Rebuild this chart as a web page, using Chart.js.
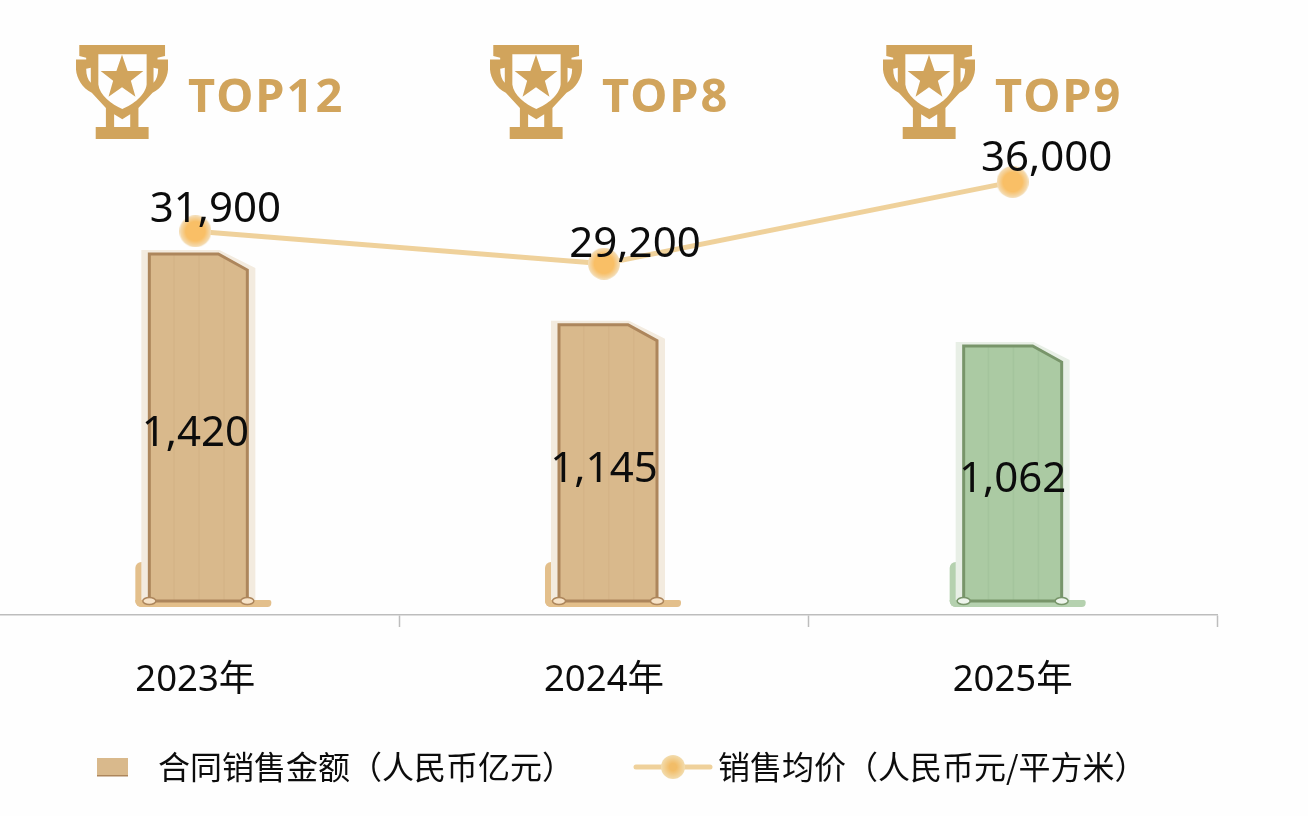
<!DOCTYPE html>
<html lang="zh-CN">
<head>
<meta charset="utf-8">
<title>合同销售金额与销售均价</title>
<script src="https://cdn.jsdelivr.net/npm/chart.js@4/dist/chart.umd.min.js"></script>
<style>
  html, body { margin: 0; height: 100%; background: #fefefe; overflow: hidden; }
  #wrap { position: relative; width: 1308px; height: 816px; overflow: hidden; }
  /* the first axis segment runs off the left edge */
  #chart { position: absolute; left: -9px; top: 0; }
</style>
</head>
<body>
<div id="wrap"><canvas id="chart" width="1317" height="816"></canvas></div>
<script>
const years = ['2023年', '2024年', '2025年'];
const salesAmount = [1420, 1145, 1062];
const avgPrice = [31900, 29200, 36000];
const ranks = ['TOP12', 'TOP8', 'TOP9'];
const amountLegend = '合同销售金额（人民币亿元）';
const priceLegend = '销售均价（人民币元/平方米）';

const LATIN = '"Noto Sans", "Noto Sans CJK SC", sans-serif';
const CJK = '"Noto Sans CJK SC", "Noto Sans", sans-serif';
const GOLD = '#d1a45c';
const TEXT = '#0c0c0c';

/* ── Bar skins ─────────────────────────────── */
const TAN = { fill: '#d9b98c', edge: '#ad865c', frame: '#f3ebdf', foot: '#e3bf8b', cap: '#f7e3c8', stripe: 'rgba(150,110,60,0.06)' };
const GREEN = { fill: '#abcaa3', edge: '#78956a', frame: '#e8efe6', foot: '#b5d1af', cap: '#eef5ec', stripe: 'rgba(70,110,70,0.06)' };
const barSkins = [TAN, TAN, GREEN];
const barNudge = [3, 4, 0];

/* ── Header placement (icon left edge, label left edge) ────── */
const trophyLeft = [76, 490, 883];
const rankLeft = [188, 602, 995];

/* value label offsets from the line point */
const priceLabelShift = [[20, -21], [31, -19], [34, -23]];

/* ── Trophy icon, 280 unit box ─────────────── */
const TROPHY = new Path2D(
  'M10 0H271V33L248 38V43H280V73C278 100 262 128 233 143L190 188V245H221V281H60V245H91V188L48 143' +
  'C19 128 2 100 0 73V43H31V38L10 33Z' +
  'M68 28V118C72 150 108 178 141 191C174 178 211 150 215 118V28Z' +
  'M31 71C31 90 36 104 45 113V68Z' +
  'M250 71C250 90 245 104 236 113V68Z' +
  'M116 207L141 222L165 207V245H116Z'
);
const STAR = new Path2D('M140 29L157 78L205 78L167 107L181 155L140 126L99 155L113 107L75 78L123 78Z');

function chamferedPath(ctx, l, r, t, b, cutX, cutY) {
  ctx.beginPath();
  ctx.moveTo(l, b);
  ctx.lineTo(l, t);
  ctx.lineTo(r - cutX, t);
  ctx.lineTo(r, t + cutY);
  ctx.lineTo(r, b);
  ctx.closePath();
}

function drawPictorialBar(ctx, bar, skin, nudge) {
  const l = bar.x - bar.width / 2 + nudge;
  const r = bar.x + bar.width / 2 + nudge;
  const top = bar.y;
  const floor = bar.base - 8;

  // footplate behind the column
  ctx.fillStyle = skin.foot;
  ctx.beginPath();
  ctx.roundRect(l - 14, floor - 45, 20, 45, [6, 0, 0, 6]);
  ctx.fill();
  ctx.beginPath();
  ctx.roundRect(l - 14, floor - 7, bar.width + 38, 7, [0, 2, 4, 6]);
  ctx.fill();

  // pale outer frame
  ctx.fillStyle = skin.frame;
  chamferedPath(ctx, l - 8, r + 8, top, floor - 7, 36, 18);
  ctx.fill();

  // column body
  ctx.save();
  chamferedPath(ctx, l, r, top + 4, floor - 6, 29, 16);
  ctx.fillStyle = skin.fill;
  ctx.fill();
  ctx.clip();
  ctx.fillStyle = skin.stripe;
  for (let x = l + 24; x < r; x += 25) ctx.fillRect(x, top, 1.5, floor - top);
  ctx.restore();
  chamferedPath(ctx, l, r, top + 4, floor - 6, 29, 16);
  ctx.strokeStyle = skin.edge;
  ctx.lineWidth = 3;
  ctx.stroke();

  // small rivets at the two lower corners
  [l, r].forEach(x => {
    ctx.beginPath();
    ctx.ellipse(x, floor - 6, 6.5, 3.5, 0, 0, Math.PI * 2);
    ctx.fillStyle = skin.cap;
    ctx.fill();
    ctx.strokeStyle = skin.edge;
    ctx.lineWidth = 1.5;
    ctx.stroke();
  });
}

/* round marker with a warm centre that fades out to the rim */
function makeMarker(radius, core, rim, coreStop) {
  const c = document.createElement('canvas');
  c.width = c.height = radius * 2;
  const g = c.getContext('2d');
  const grad = g.createRadialGradient(radius, radius, 0, radius, radius, radius);
  grad.addColorStop(0, core);
  grad.addColorStop(coreStop, core);
  grad.addColorStop(1, rim);
  g.fillStyle = grad;
  g.beginPath();
  g.arc(radius, radius, radius, 0, Math.PI * 2);
  g.fill();
  return c;
}

const fmt = v => v.toLocaleString('en-US');

const pictorialBars = {
  id: 'pictorialBars',
  beforeDatasetDraw(chart, args) {
    if (args.index !== 0) return;
    args.meta.data.forEach((bar, i) => drawPictorialBar(chart.ctx, bar, barSkins[i], barNudge[i]));
    return false;
  },
};

const headerAndLabels = {
  id: 'headerAndLabels',
  afterDatasetsDraw(chart) {
    const ctx = chart.ctx;
    const shiftX = chart.canvas.offsetLeft;
    ctx.save();
    ctx.textBaseline = 'middle';

    // trophies with rank text
    ranks.forEach((rank, i) => {
      ctx.save();
      ctx.translate(trophyLeft[i] - shiftX, 45);
      ctx.scale(92 / 280, 94 / 281);
      ctx.fillStyle = GOLD;
      ctx.fill(TROPHY, 'evenodd');
      ctx.fill(STAR);
      ctx.restore();

      ctx.fillStyle = GOLD;
      ctx.textAlign = 'left';
      ctx.font = 'bold 47px ' + LATIN;
      ctx.letterSpacing = '2px';
      ctx.fillText(rank, rankLeft[i] - shiftX, 99);
      ctx.letterSpacing = '0px';
    });

    // value labels
    ctx.fillStyle = TEXT;
    ctx.textAlign = 'center';
    ctx.font = '42px ' + LATIN;
    chart.getDatasetMeta(0).data.forEach((bar, i) => {
      ctx.fillText(fmt(salesAmount[i]), bar.x, (bar.y + bar.base) / 2 + 2);
    });
    chart.getDatasetMeta(1).data.forEach((pt, i) => {
      const [dx, dy] = priceLabelShift[i];
      ctx.fillText(fmt(avgPrice[i]), pt.x + dx, pt.y + dy);
    });

    // legend row
    const legendY = 767;
    ctx.fillStyle = TAN.fill;
    ctx.fillRect(97 - shiftX, legendY - 9, 31, 18);
    ctx.fillStyle = TAN.edge;
    ctx.fillRect(97 - shiftX, legendY + 8, 31, 1.5);

    ctx.strokeStyle = '#efd19b';
    ctx.lineWidth = 5;
    ctx.lineCap = 'round';
    ctx.beginPath();
    ctx.moveTo(636 - shiftX, legendY);
    ctx.lineTo(710 - shiftX, legendY);
    ctx.stroke();
    ctx.drawImage(makeMarker(12, '#f2bd68', '#f2dcae', 0.3), 661 - shiftX, legendY - 12);

    ctx.fillStyle = TEXT;
    ctx.textAlign = 'left';
    ctx.font = '32px ' + CJK;
    ctx.fillText(amountLegend, 158 - shiftX, legendY);
    ctx.fillText(priceLegend, 718 - shiftX, legendY);
    ctx.restore();
  },
};

new Chart(document.getElementById('chart'), {
  data: {
    labels: years,
    datasets: [
      {
        type: 'bar',
        label: '合同销售金额（人民币亿元）',
        data: salesAmount,
        yAxisID: 'yAmount',
        barThickness: 98,
        order: 2,
      },
      {
        type: 'line',
        label: '销售均价（人民币元/平方米）',
        data: avgPrice,
        yAxisID: 'yPrice',
        borderColor: '#efd19b',
        borderWidth: 5,
        tension: 0,
        pointStyle: makeMarker(16, '#f9bf66', '#f3dfbc', 0.6),
        pointRadius: 16,
        order: 1,
      },
    ],
  },
  options: {
    responsive: false,
    animation: false,
    devicePixelRatio: 1,
    layout: { autoPadding: false, padding: { top: 20, right: 91, left: 0, bottom: 0 } },
    plugins: { legend: { display: false }, tooltip: { enabled: false } },
    scales: {
      x: {
        afterFit(scale) {
          scale.height = 201;
          scale.paddingLeft = 0;
          scale.paddingRight = 0;
        },
        offset: true,
        grid: {
          offset: true,
          drawOnChartArea: false,
          drawTicks: true,
          tickLength: 12,
          tickColor: '#bdbdbd',
          tickWidth: 1.5,
        },
        border: { color: '#bdbdbd', width: 1.5 },
        ticks: {
          color: TEXT,
          padding: 32,
          maxRotation: 0,
          font: { family: LATIN, size: 36.5 },
        },
      },
      // both value axes share the x axis as their zero line
      yAmount: { display: false, min: 0, max: 2315 },
      yPrice: { display: false, min: 0, max: 49460 },
    },
  },
  plugins: [pictorialBars, headerAndLabels],
});
</script>
</body>
</html>
